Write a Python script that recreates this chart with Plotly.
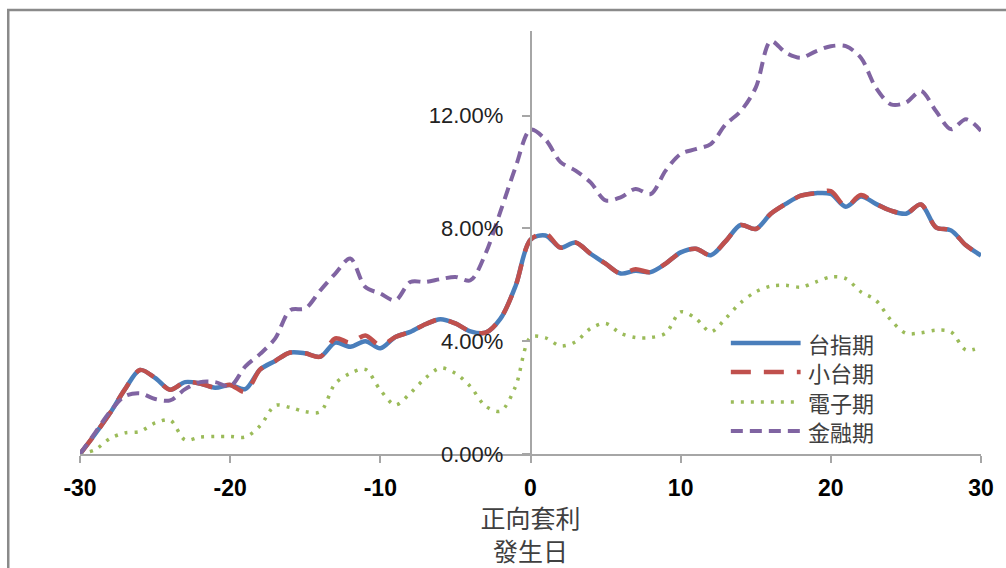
import plotly.graph_objects as go

# Trading days relative to the positive-arbitrage event
days = list(range(-30, 31))

# Cumulative returns (%) for each futures contract
taiex = [0.0, 0.7, 1.45, 2.3, 2.98, 2.7, 2.28, 2.55, 2.5, 2.35,
         2.45, 2.3, 3.0, 3.3, 3.6, 3.57, 3.45, 3.95, 3.8, 4.0,
         3.75, 4.15, 4.33, 4.6, 4.78, 4.63, 4.35, 4.3, 4.8, 5.95,
         7.6, 7.75, 7.32, 7.5, 7.1, 6.75, 6.4, 6.5, 6.45, 6.75,
         7.15, 7.28, 7.05, 7.55, 8.12, 7.98, 8.52, 8.87, 9.16, 9.25,
         9.22, 8.77, 9.13, 8.87, 8.63, 8.52, 8.85, 8.04, 7.93, 7.4,
         7.04]
mini = [0.0, 0.7, 1.45, 2.3, 2.98, 2.7, 2.28, 2.55, 2.5, 2.35,
        2.45, 2.2, 3.0, 3.3, 3.6, 3.57, 3.45, 4.1, 3.95, 4.2,
        3.85, 4.15, 4.33, 4.6, 4.78, 4.63, 4.35, 4.3, 4.8, 5.95,
        7.6, 7.82, 7.32, 7.5, 7.1, 6.75, 6.4, 6.55, 6.45, 6.75,
        7.15, 7.28, 7.05, 7.55, 8.12, 7.98, 8.52, 8.87, 9.16, 9.25,
        9.32, 8.77, 9.18, 8.87, 8.63, 8.52, 8.85, 8.04, 7.93, 7.4,
        7.04]
elec = [0.0, 0.15, 0.55, 0.75, 0.8, 1.1, 1.2, 0.5, 0.6, 0.62,
        0.62, 0.6, 1.0, 1.72, 1.65, 1.5, 1.5, 2.5, 2.86, 3.0,
        2.27, 1.74, 2.16, 2.69, 3.05, 2.86, 2.39, 1.7, 1.52, 2.39,
        4.13, 4.12, 3.83, 3.98, 4.45, 4.63, 4.28, 4.13, 4.13, 4.28,
        5.04, 4.81, 4.33, 4.81, 5.37, 5.75, 5.95, 5.98, 5.92, 6.1,
        6.28, 6.22, 5.75, 5.45, 4.75, 4.28, 4.3, 4.39, 4.33, 3.69,
        3.8]
fin = [0.0, 0.75, 1.5, 2.05, 2.15, 1.95, 1.9, 2.3, 2.55, 2.55,
       2.4, 3.1, 3.55, 4.1, 5.1, 5.16, 5.8, 6.4, 6.93, 5.92,
       5.69, 5.45, 6.1, 6.1, 6.2, 6.28, 6.16, 7.1, 8.6, 10.16,
       11.5, 11.15, 10.35, 10.05, 9.63, 8.99, 9.1, 9.4, 9.22, 10.05,
       10.64, 10.81, 10.99, 11.69, 12.16, 12.99, 14.64, 14.23, 14.05, 14.28,
       14.46, 14.46, 14.05, 12.99, 12.4, 12.46, 12.87, 12.16, 11.52, 11.87,
       11.46]

names = ["台指期", "小台期", "電子期", "金融期"]
series = [taiex, mini, elec, fin]
colors = ["#4A7EBB", "#C0504D", "#9BBB59", "#8064A2"]
line_styles = [
    dict(width=4.5, dash="solid"),
    dict(width=4.5, dash="20px,13px"),
    dict(width=3.5, dash="3px,7px"),
    dict(width=4, dash="12px,7px"),
]

x_ticks = [-30, -20, -10, 0, 10, 20, 30]
x_labels = [str(v) for v in x_ticks]
y_ticks = [0, 4, 8, 12]
y_labels = [f"{v:.2f}%" for v in y_ticks]

W, H = 1006, 568
ML, MR, MT, MB = 80, 22, 31, 114
PW, PH = W - ML - MR, H - MT - MB


def fx(p):
    """pixel column -> paper x"""
    return (p - ML) / PW


def fy(p):
    """pixel row -> paper y"""
    return (H - MB - p) / PH


LATIN = "Liberation Sans, Arial, sans-serif"
CJK = "Noto Sans CJK TC, Noto Sans CJK SC, sans-serif"
AXIS_GREY = "#A6A6A6"

fig = go.Figure()
for name, vals, color, st in zip(names, series, colors, line_styles):
    fig.add_trace(go.Scatter(
        x=days, y=vals, name=name, mode="lines",
        line=dict(color=color, width=st["width"], dash=st["dash"],
                  shape="spline", smoothing=0.9),
        showlegend=False,
    ))

shapes = [
    # outer chart frame (only the top and left edges fall inside the page)
    dict(type="rect", xref="paper", yref="paper",
         x0=fx(8), x1=fx(1030), y0=fy(600), y1=fy(10),
         line=dict(color="#8A8A8A", width=2.5), fillcolor="rgba(0,0,0,0)",
         layer="below"),
]
annotations = []

# legend drawn as line samples with labels
leg_rows = [343, 372, 402, 431]
for name, color, st, row in zip(names, colors, line_styles, leg_rows):
    shapes.append(dict(type="line", xref="paper", yref="paper",
                       x0=fx(733), x1=fx(803), y0=fy(row), y1=fy(row),
                       line=dict(color=color, width=st["width"], dash=st["dash"])))
    annotations.append(dict(xref="paper", yref="paper", x=fx(808), y=fy(row),
                            xanchor="left", yanchor="middle", showarrow=False,
                            text=name, font=dict(family=CJK, size=22, color="#404040")))

fig.update_layout(
    width=W, height=H,
    margin=dict(l=ML, r=MR, t=MT, b=MB, pad=0),
    paper_bgcolor="white", plot_bgcolor="white",
    shapes=shapes, annotations=annotations,
    xaxis=dict(
        range=[-30, 30], tickvals=x_ticks, ticktext=x_labels,
        showgrid=False, zeroline=False,
        showline=True, linecolor=AXIS_GREY, linewidth=1.5,
        ticks="outside", ticklen=7, tickcolor=AXIS_GREY, tickwidth=1.5,
        tickfont=dict(family=LATIN, size=23, color="#000000", weight="bold"),
        ticklabelstandoff=6,
        title=dict(text="正向套利<br>發生日", standoff=4,
                   font=dict(family=CJK, size=25, color="#404040")),
    ),
    yaxis=dict(
        range=[0, 15], tickvals=y_ticks, ticktext=y_labels,
        anchor="free", position=0.5, side="left",
        showgrid=False, zeroline=False,
        showline=True, linecolor=AXIS_GREY, linewidth=1.5,
        ticks="outside", ticklen=8, tickcolor=AXIS_GREY, tickwidth=1.5,
        tickfont=dict(family=LATIN, size=22, color="#222222"),
        ticklabelstandoff=14,
    ),
)

fig.write_html("out.html")
